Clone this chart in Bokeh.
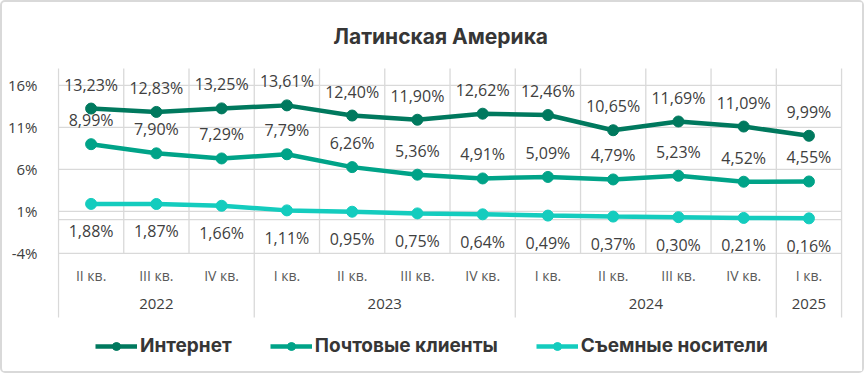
from bokeh.plotting import figure
from bokeh.models import Range1d, FixedTicker, CustomJSTickFormatter, Label, Legend, LegendItem, ColumnDataSource
from bokeh.core.properties import value
from bokeh.embed import file_html
from bokeh.resources import INLINE

# ---- data ----
quarters = ["II кв.", "III кв.", "IV кв.", "I кв.", "II кв.", "III кв.", "IV кв.",
            "I кв.", "II кв.", "III кв.", "IV кв.", "I кв."]
years = ["2022", "2023", "2024", "2025"]
year_counts = [3, 4, 4, 1]
internet = [13.23, 12.83, 13.25, 13.61, 12.40, 11.90, 12.62, 12.46, 10.65, 11.69, 11.09, 9.99]
mail = [8.99, 7.90, 7.29, 7.79, 6.26, 5.36, 4.91, 5.09, 4.79, 5.23, 4.52, 4.55]
removable = [1.88, 1.87, 1.66, 1.11, 0.95, 0.75, 0.64, 0.49, 0.37, 0.30, 0.21, 0.16]
series_names = ["Интернет", "Почтовые клиенты", "Съемные носители"]
y_ticks = [-4, 1, 6, 11, 16]
title_text = "Латинская Америка"

colors = ["#00795E", "#00A388", "#14CCBE"]
grid_col = "#d9d9d9"
text_col = "#404040"

n = len(quarters)
xs = [i + 0.5 for i in range(n)]
PX = 8.4            # pixels per percent
B = 2               # outer border width
Y_TOP = 18          # top of plot area
Y_FRAME_TOP = Y_TOP + (68 - B) / PX
Y_FRAME_BOT = Y_TOP - (377 - B - 68) / PX
Y_BOT = Y_TOP - (317 - 68) / PX   # bottom of category axis area

p = figure(width=868 - 2 * B, height=377 - 2 * B, output_backend="svg", toolbar_location=None,
           x_range=Range1d(-0.015, n + 0.015 + 24 / 65.4), y_range=Range1d(Y_FRAME_BOT, Y_FRAME_TOP),
           x_axis_location=None,
           min_border_left=57 - B, min_border_right=0, min_border_top=0, min_border_bottom=0)
p.styles = {"border": f"{B}px solid #d9d9d9", "border-radius": "5px"}
p.outline_line_color = None
p.xgrid.visible = False
p.ygrid.visible = False
p.background_fill_color = "white"
p.border_fill_color = "white"

ax = p.yaxis[0]
ax.ticker = FixedTicker(ticks=y_ticks)
ax.formatter = CustomJSTickFormatter(code="return tick + '%';")
ax.axis_line_color = None
ax.major_tick_line_color = None
ax.minor_tick_line_color = None
ax.major_label_standoff = 14
ax.major_label_text_font = "Open Sans"
ax.major_label_text_font_size = "15px"
ax.major_label_text_color = text_col

# horizontal grid lines + category axis line at 0
hy = y_ticks + [0]
p.segment(x0=[0] * len(hy), y0=hy, x1=[n] * len(hy), y1=hy, line_color=grid_col, line_width=1.3)

# vertical separators
bounds = [0]
for c in year_counts:
    bounds.append(bounds[-1] + c)
vx, vy0, vy1 = [], [], []
for b in range(n + 1):
    vx.append(b)
    vy0.append(Y_TOP)
    vy1.append(Y_BOT if b in bounds else y_ticks[0])
p.segment(x0=vx, y0=vy0, x1=vx, y1=vy1, line_color=grid_col, line_width=1.3)

def fmt(v):
    return f"{v:.2f}%".replace(".", ",")

items = []
offsets = [-24, -24, 27.5]
for vals, col, name, off in zip([internet, mail, removable], colors, series_names, offsets):
    src = ColumnDataSource(dict(x=xs, y=vals, lab=[fmt(v) for v in vals]))
    r1 = p.line("x", "y", source=src, line_color=col, line_width=4.5)
    r2 = p.scatter("x", "y", source=src, size=11, fill_color=col, line_color=col)
    p.text("x", "y", text="lab", source=src, y_offset=off, text_align="center",
           text_baseline="middle", text_font=value("Open Sans"), text_font_size="16px",
           text_color=text_col)
    items.append(LegendItem(label=name, renderers=[r1, r2]))

# category labels
q_y = Y_TOP - (275 - 68) / PX
y_y = Y_TOP - (303 - 68) / PX
p.text(x=xs, y=[q_y] * n, text=quarters, text_align="center", text_baseline="middle",
       text_font=value("Open Sans"), text_font_size="14px", text_color="#595959")
yc = [(bounds[i] + bounds[i + 1]) / 2 for i in range(len(years))]
p.text(x=yc, y=[y_y] * len(years), text=years, text_align="center", text_baseline="middle",
       text_font=value("Open Sans"), text_font_size="15px", text_color=text_col)

# title
p.add_layout(Label(x=(441 - 58) / 65.4, y=Y_TOP + (68 - 36) / PX, text=title_text,
                   text_align="center", text_baseline="middle", text_font="Inter",
                   text_font_style="bold", text_font_size="21px", text_color="#363636"))

leg = Legend(items=items, orientation="horizontal", location=(38, 377 - B - 357),
             glyph_width=42, glyph_height=20, label_height=20, label_standoff=3, spacing=38,
             label_text_font="Inter", label_text_font_style="bold", label_text_font_size="19px",
             label_text_color="#363636", border_line_color=None, background_fill_alpha=0,
             padding=0, margin=0)
p.add_layout(leg, "center")

open("out.html", "w").write(file_html(p, INLINE))
